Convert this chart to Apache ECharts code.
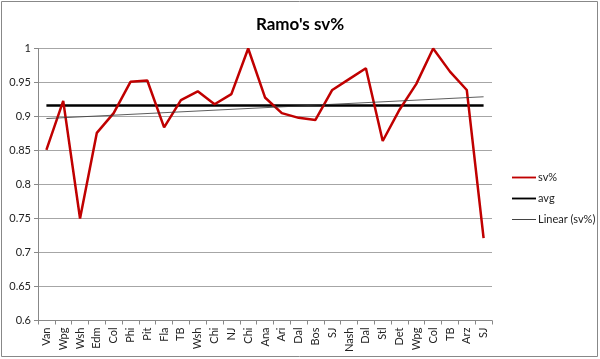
<!DOCTYPE html>
<html><head><meta charset="utf-8">
<script src="https://cdn.jsdelivr.net/npm/echarts@6/dist/echarts.min.js"></script>
<style>html,body{margin:0;padding:0;background:#fff}#c{width:600px;height:359px}</style>
</head><body><div id="c"></div>
<script>
const categories = ["Van","Wpg","Wsh","Edm","Col","Phi","Pit","Fla","TB","Wsh","Chi","NJ","Chi","Ana","Ari","Dal","Bos","SJ","Nash","Dal","Stl","Det","Wpg","Col","TB","Arz","SJ"];
const svPct = [0.851,0.923,0.750,0.876,0.905,0.951,0.953,0.884,0.924,0.937,0.918,0.933,1.000,0.928,0.905,0.898,0.895,0.939,0.955,0.971,0.864,0.910,0.948,1.000,0.966,0.939,0.721];
const avgValue = 0.916;
const trendStart = 0.897;
const trendEnd = 0.929;
const yTicks = [0.6,0.65,0.7,0.75,0.8,0.85,0.9,0.95,1];

const avgData = categories.map(() => avgValue);
const trendData = categories.map((c, i) => i === 0 ? trendStart : (i === categories.length - 1 ? trendEnd : null));

const chart = echarts.init(document.getElementById('c'));
const font = 'Lato';
chart.setOption({
  animation: false,
  backgroundColor: '#fff',
  title: { text: "Ramo's sv%", left: 'center', top: 11, textStyle: { fontFamily: font, fontSize: 17, fontWeight: 'bold', color: '#000' } },
  grid: { left: 38, right: 108, top: 48.5, bottom: 38.5 },
  legend: {
    orient: 'vertical', left: 507, top: 167, itemGap: 10, itemWidth: 24, itemHeight: 10,
    textStyle: { fontFamily: font, fontSize: 11, color: '#222', padding: [0,0,0,-3] },
    data: [
      { name: 'sv%', icon: 'path://M0,4 L26,4 L26,6 L0,6 Z' },
      { name: 'avg', icon: 'path://M0,4 L26,4 L26,6 L0,6 Z' },
      { name: 'Linear (sv%)', icon: 'path://M0,4.5 L26,4.5 L26,5.5 L0,5.5 Z' }
    ]
  },
  xAxis: {
    type: 'category', data: categories, boundaryGap: true,
    axisLine: { lineStyle: { color: '#888' } },
    axisTick: { show: true, length: 4, lineStyle: { color: '#888' }, interval: 0 },
    axisLabel: { rotate: 90, interval: 0, fontFamily: font, fontSize: 11, color: '#222', margin: 7 }
  },
  yAxis: {
    type: 'value', min: 0.6, max: 1, interval: 0.05,
    axisLine: { show: true, lineStyle: { color: '#888' } },
    axisTick: { show: true, length: 4, lineStyle: { color: '#888' } },
    splitLine: { lineStyle: { color: '#a6a6a6', width: 1 } },
    axisLabel: { fontFamily: font, fontSize: 11, color: '#222', margin: 7,
      formatter: v => { const r = Math.round(v*100)/100; return String(r); } }
  },
  series: [
    { name: 'sv%', type: 'line', data: svPct, symbol: 'none', lineStyle: { color: '#c00000', width: 2.5 }, itemStyle: { color: '#c00000' }, z: 4 },
    { name: 'avg', type: 'line', data: avgData, symbol: 'none', lineStyle: { color: '#000', width: 2.5 }, itemStyle: { color: '#000' }, z: 3 },
    { name: 'Linear (sv%)', type: 'line', data: trendData, connectNulls: true, symbol: 'none', lineStyle: { color: '#333', width: 0.8 }, itemStyle: { color: '#333' }, z: 5 }
  ],
  graphic: [{ type: 'rect', shape: { x: 1.5, y: 1.5, width: 596, height: 355 }, style: { fill: 'none', stroke: '#888', lineWidth: 1 }, z: -1 }]
});
</script></body></html>
